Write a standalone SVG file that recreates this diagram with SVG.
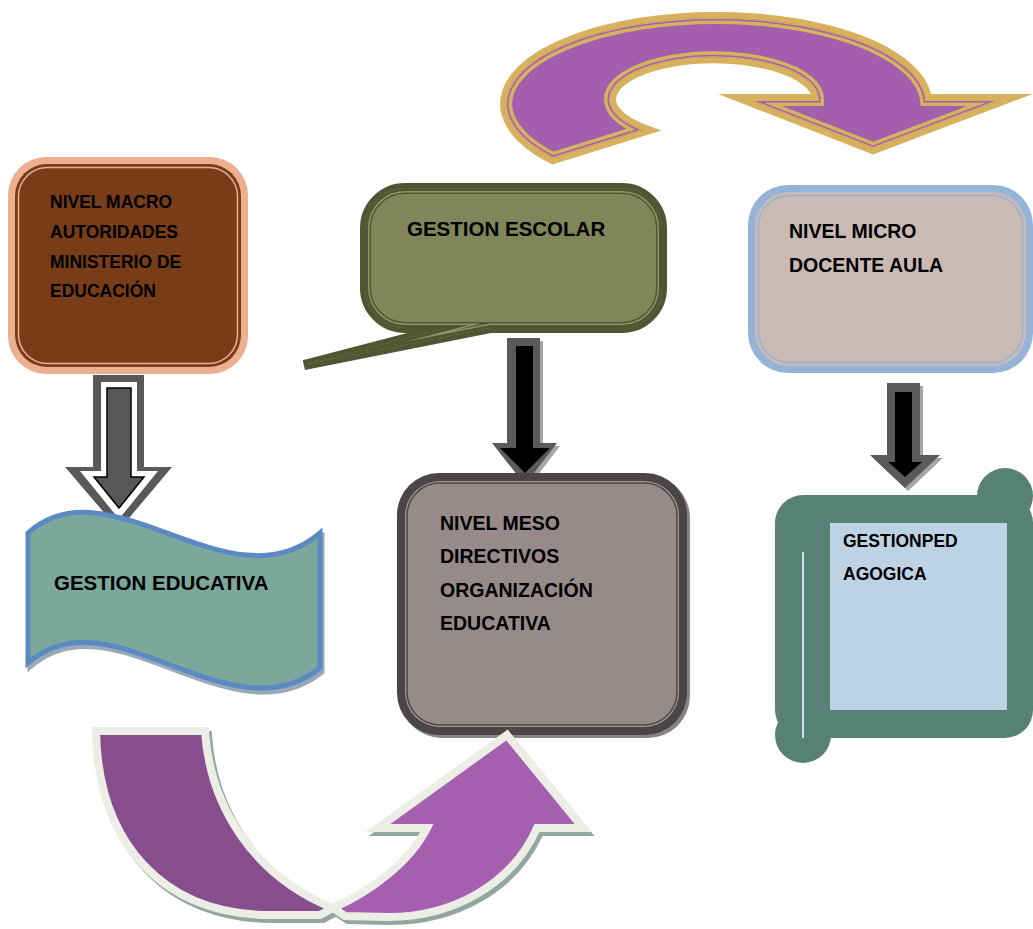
<svg xmlns="http://www.w3.org/2000/svg" width="1033" height="929" viewBox="0 0 1033 929">
<style>
text{font-family:"Liberation Sans",Arial,sans-serif;font-weight:bold;fill:#000}
.t18{font-size:17.5px}
.t19{font-size:19.5px}
.t21{font-size:20.5px}
</style>
<defs>
<path id="topArrowShape" d="M553,158 A210,86 0 1 1 926,100 L1000,100 L873,148 L750,100 L818,100 A104,42 0 1 0 643,130 Z"/>
<clipPath id="clipTop"><use href="#topArrowShape"/></clipPath>
<path id="bubbleShape" d="M405,188 H622 A40,40 0 0 1 662,228 V288 A40,40 0 0 1 622,328 H490 L304,365 L446,328 H405 A40,40 0 0 1 365,288 V228 A40,40 0 0 1 405,188 Z"/>
<clipPath id="clipBubble"><use href="#bubbleShape"/></clipPath>
<path id="waveShape" d="M28,533 C110,460 230,610 320,533 L320,668 C230,740 110,590 28,663 Z"/>
<path id="bandLeft" d="M96,731 L205,731 C210,805 252,875 333,908 L320,915 L270,915 C165,915 98,845 96,731 Z"/>
<path id="bandRight" d="M333,908 C370,892 410,862 427,828 L378,828 L507,735 L583,828 L537,828 C512,885 452,917 388,917 L345,916 Z"/>
</defs>
<rect width="1033" height="929" fill="#ffffff"/>

<g id="connectors">
  <g id="top-curved-arrow" stroke-miterlimit="10">
    <use href="#topArrowShape" fill="#A35FAD" stroke="#D8B15E" stroke-width="12"/>
    <g clip-path="url(#clipTop)" fill="none" stroke-miterlimit="10">
      <use href="#topArrowShape" stroke="#D8B15E" stroke-width="8"/>
      <use href="#topArrowShape" stroke="#A35FAD" stroke-width="5"/>
      <use href="#topArrowShape" stroke="#D8B15E" stroke-width="2"/>
    </g>
  </g>
  <g id="arrow-left">
    <path d="M93,375 H144 V467 H172 L119,530 L65,467 H93 Z" fill="#595959"/>
    <path d="M101,382 H137 V471 H158 L119,519 L80,471 H101 Z" fill="#ffffff"/>
    <path d="M107,388 H131 V477 H144 L119,508 L94,477 H107 Z" fill="#575757" stroke="#000000" stroke-width="1.5"/>
  </g>
  <g id="arrow-middle">
    <path d="M510,341 H543 V446 H560 L528,488 L495,446 H510 Z" fill="#A6A6A6"/>
    <path d="M507,338 H540 V443 H557 L525,485 L492,443 H507 Z" fill="#5A5A5A"/>
    <path d="M516,346 H533 V448 H550 L525,473 L500,448 H516 Z" fill="#000000"/>
  </g>
  <g id="arrow-right">
    <path d="M890,386 H923 V458 H943 L908,491 L873,458 H890 Z" fill="#A6A6A6"/>
    <path d="M887,383 H920 V455 H940 L905,488 L870,455 H887 Z" fill="#5A5A5A"/>
    <path d="M895,392 H912 V462 H922 L905,477 L888,462 H895 Z" fill="#000000"/>
  </g>
</g>

<g id="nivel-macro">
  <rect x="8" y="157" width="240" height="217" rx="38" fill="#EAB08F"/>
  <rect x="15" y="164" width="226" height="203" rx="32" fill="#783C19"/>
  <rect x="18.5" y="167.5" width="219" height="196" rx="29" fill="none" stroke="#EAB08F" stroke-width="1.5"/>
  <text class="t18" x="50" y="208">NIVEL MACRO</text>
  <text class="t18" x="50" y="238">AUTORIDADES</text>
  <text class="t18" x="50" y="268">MINISTERIO DE</text>
  <text class="t18" x="50" y="297">EDUCACIÓN</text>
</g>

<g id="gestion-escolar">
  <use href="#bubbleShape" fill="#80855A" stroke="#4F5632" stroke-width="10" stroke-miterlimit="10"/>
  <g clip-path="url(#clipBubble)" fill="none" stroke-miterlimit="10">
    <use href="#bubbleShape" stroke="#4F5632" stroke-width="12"/>
    <use href="#bubbleShape" stroke="#8E9368" stroke-width="9"/>
    <use href="#bubbleShape" stroke="#4F5632" stroke-width="6"/>
  </g>
  <text class="t21" x="407" y="236">GESTION ESCOLAR</text>
</g>

<g id="nivel-micro">
  <rect x="748" y="185" width="285" height="188" rx="40" fill="#95B3D7"/>
  <rect x="755" y="192" width="271" height="174" rx="34" fill="#C9BAB4"/>
  <rect x="758.5" y="195.5" width="264" height="167" rx="31" fill="none" stroke="#95B3D7" stroke-width="1.5"/>
  <text class="t19" x="789" y="238">NIVEL MICRO</text>
  <text class="t19" x="789" y="272">DOCENTE AULA</text>
</g>

<g id="gestion-educativa">
  <use href="#waveShape" transform="translate(2,4)" fill="#9AA9B8" stroke="#9AA9B8" stroke-width="5"/>
  <use href="#waveShape" fill="#7BA89B" stroke="#5A8AC1" stroke-width="5"/>
  <text class="t21" x="54" y="590">GESTION EDUCATIVA</text>
</g>

<g id="nivel-meso">
  <rect x="400" y="476" width="290" height="262" rx="42" fill="#8A8383"/>
  <rect x="397" y="473" width="290" height="262" rx="42" fill="#4B4545"/>
  <rect x="405" y="481" width="274" height="246" rx="35" fill="#A39999"/>
  <rect x="407" y="483" width="270" height="242" rx="33" fill="#968B8A" stroke="#4B4545" stroke-width="1.5"/>
  <text class="t19" x="440" y="530">NIVEL MESO</text>
  <text class="t19" x="440" y="563">DIRECTIVOS</text>
  <text class="t19" x="440" y="597">ORGANIZACIÓN</text>
  <text class="t19" x="440" y="630">EDUCATIVA</text>
</g>

<g id="gestion-pedagogica">
  <rect x="775" y="495" width="258" height="243" rx="28" fill="#568174"/>
  <circle cx="1005" cy="496" r="28" fill="#568174"/>
  <circle cx="803" cy="735" r="28" fill="#568174"/>
  <rect x="830" y="523" width="177" height="187" fill="#BDD3E3"/>
  <line x1="803" y1="552" x2="803" y2="738" stroke="#D0DEE6" stroke-width="2"/>
  <text class="t18" x="843" y="547">GESTIONPED</text>
  <text class="t18" x="843" y="580">AGOGICA</text>
</g>

<g id="bottom-curved-arrows" stroke-miterlimit="10">
  <use href="#bandLeft" transform="translate(3,4)" fill="#93A7A1" stroke="#93A7A1" stroke-width="8"/>
  <use href="#bandRight" transform="translate(3,4)" fill="#93A7A1" stroke="#93A7A1" stroke-width="8"/>
  <use href="#bandLeft" fill="#874E8E" stroke="#ECEEE6" stroke-width="8"/>
  <use href="#bandRight" fill="#A45FAE" stroke="#ECEEE6" stroke-width="8"/>
</g>
</svg>
